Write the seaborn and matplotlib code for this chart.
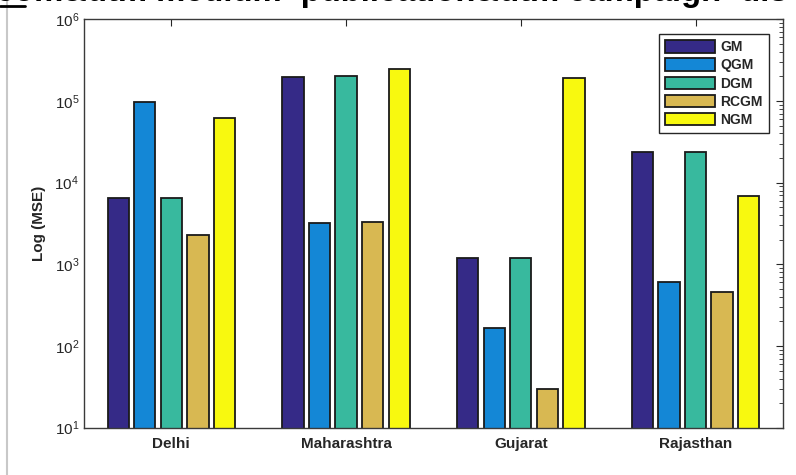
import matplotlib
matplotlib.use("Agg")
import matplotlib.pyplot as plt
from matplotlib.lines import Line2D
import seaborn as sns
import pandas as pd

# values (log-scaled MSE)
states = ["Delhi", "Maharashtra", "Gujarat", "Rajasthan"]
models = ["GM", "QGM", "DGM", "RCGM", "NGM"]
gm = [6450, 195000, 1210, 24000]
qgm = [97000, 3240, 165, 604]
dgm = [6500, 204000, 1210, 24000]
rcgm = [2290, 3310, 29.6, 455]
ngm = [61400, 244000, 193000, 6930]
colors = ["#352a87", "#1487d6", "#38b99e", "#d8b852", "#f8f90f"]
banner = "com&utm medium=publication&utm campaign=dis"

sns.set_style("white")
plt.rcParams["font.family"] = ["Liberation Sans", "DejaVu Sans"]
plt.rcParams["mathtext.fontset"] = "custom"
plt.rcParams["mathtext.bf"] = "Liberation Sans:bold"
plt.rcParams["mathtext.rm"] = "Liberation Sans:bold"
plt.rcParams["mathtext.default"] = "bf"

df = pd.DataFrame({
    "state": states * 5,
    "model": [m for m in models for _ in states],
    "mse": gm + qgm + dgm + rcgm + ngm,
})

fig = plt.figure(figsize=(7.96, 4.75), dpi=100)
ax = fig.add_axes([0.1055, 0.0996, 0.878, 0.8598])

sns.barplot(data=df, x="state", y="mse", hue="model", order=states, hue_order=models,
            palette=colors, width=0.76, gap=0.2, edgecolor="#1a1a1a", linewidth=1.3,
            saturation=1, ax=ax, errorbar=None)

ax.set_yscale("log")
ax.set_ylim(10, 1e6)
ax.set_xlim(-0.5, 3.5)
ax.set_xlabel("")
ax.set_ylabel("Log (MSE)", fontsize=11, fontweight="bold", labelpad=6)
for lab in ax.get_xticklabels():
    lab.set_fontweight("bold")
ax.tick_params(axis="both", which="both", direction="in", top=True, right=True,
               labelsize=11, colors="#262626")
ax.tick_params(axis="both", which="major", length=5, width=0.8)
ax.tick_params(axis="y", which="minor", length=3, width=0.6)
ax.tick_params(axis="x", pad=7)
for sp in ax.spines.values():
    sp.set_color("#3a3a3a")
    sp.set_linewidth(1.0)

handles, labels = ax.get_legend_handles_labels()
leg = ax.legend(handles, labels, loc="upper right", bbox_to_anchor=(0.98, 0.964),
                borderaxespad=0, fancybox=False, edgecolor="#262626", framealpha=1,
                prop={"weight": "bold", "size": 10}, handlelength=3.6, handleheight=1.0,
                labelspacing=0.3, handletextpad=0.35, borderpad=0.45)
leg.get_frame().set_linewidth(1.0)

# clipped banner text and page edge from the screenshot
t = fig.text(-0.005, 1 - 1 / 475, banner, fontsize=18, fontweight="bold",
             va="baseline", ha="left", color="black")
fig.canvas.draw()
w = t.get_window_extent().width
t.set_fontsize(18 * 790 / w)
fig.add_artist(Line2D([7 / 796, 7 / 796], [0, 1], color="#c8c8c8", lw=1.5))
fig.add_artist(Line2D([0, 25 / 796], [1 - 5.5 / 475, 1 - 5.5 / 475], color="black", lw=2))

fig.savefig("out.png", dpi=100)
